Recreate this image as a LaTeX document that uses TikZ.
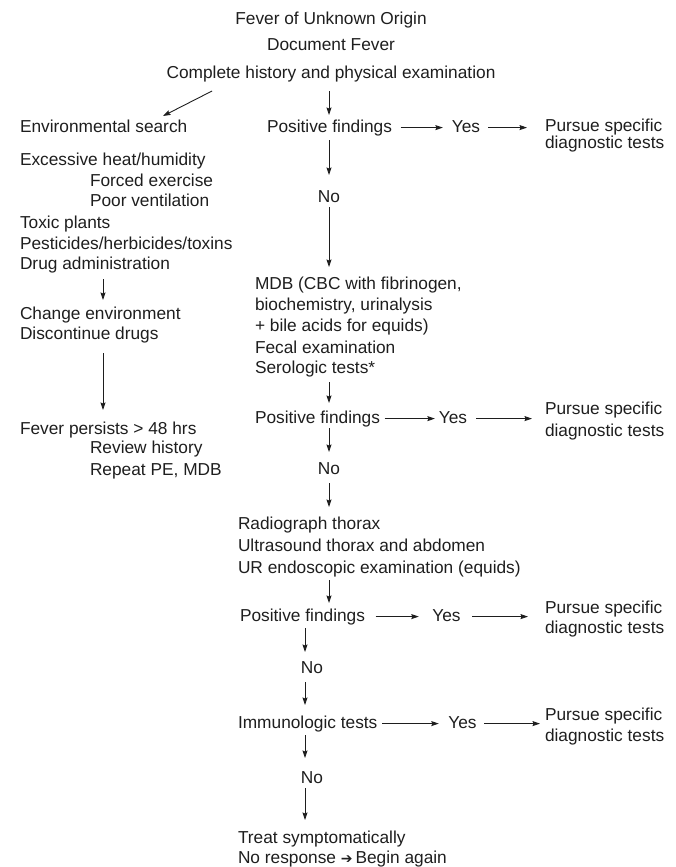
\documentclass[tikz,border=0pt]{standalone}
\usepackage{fontspec}
\setmainfont{Liberation Sans}
\newfontfamily\symfont{DejaVu Sans}
\usetikzlibrary{arrows.meta,calc}
\definecolor{ink}{HTML}{1E1E1E}
\newcommand{\fsz}{\fontsize{17.3pt}{21pt}\selectfont}
\tikzset{
  txt/.style={inner sep=0pt, outer sep=0pt, text height=12.5pt, text depth=3.7pt, font=\fsz, text=ink, anchor=base west},
  ctr/.style={txt, anchor=base},
  arr/.style={draw=ink, line width=0.9pt, -{Stealth[length=7.5pt,width=5pt,inset=1pt]}}
}
\begin{document}
\begin{tikzpicture}[x=1pt,y=-1pt]
\useasboundingbox (0,0) rectangle (676,867);
\coordinate (cA) at (329,0);
\coordinate (cB) at (305,0);
\coordinate (cL) at (103,0);
% top
\node[ctr] (fuo) at (331,25) {Fever of Unknown Origin};
\node[ctr] (doc) at (331,51) {Document Fever};
\node[ctr] (cplt) at (331,78) {Complete history and physical examination};
% left column
\node[txt] (env) at (20,132) {Environmental search};
\node[txt] (exc) at (20,165) {Excessive heat/humidity};
\node[txt] (frc) at (90,186) {Forced exercise};
\node[txt] (poor) at (90,206) {Poor ventilation};
\node[txt] (tox) at (20,228) {Toxic plants};
\node[txt] (pest) at (20,249) {Pesticides/herbicides/toxins};
\node[txt] (drug) at (20,269) {Drug administration};
\node[txt] (chg) at (20,319) {Change environment};
\node[txt] (disc) at (20,339) {Discontinue drugs};
\node[txt] (fp) at (20,434) {Fever persists > 48 hrs};
\node[txt] (rev) at (90,453) {Review history};
\node[txt] (rep) at (90,475) {Repeat PE, MDB};
% row 1
\node[txt] (pf1) at (267,132) {Positive findings};
\node[ctr] (yes1) at (466,132) {Yes};
\node[txt] (pur1a) at (545,131.5) {Pursue specific};
\node[txt] (pur1b) at (545,148.5) {diagnostic tests};
\node[ctr] (no1) at (329,202) {No};
% MDB block
\node[txt] (mdb1) at (255,289) {MDB (CBC with fibrinogen,};
\node[txt] (mdb2) at (255,310) {biochemistry, urinalysis};
\node[txt] (mdb3) at (255,331) {+ bile acids for equids)};
\node[txt] (fec) at (255,353) {Fecal examination};
\node[txt] (sero) at (255,373) {Serologic tests*};
% row 2
\node[txt] (pf2) at (255,423) {Positive findings};
\node[ctr] (yes2) at (453,423) {Yes};
\node[txt] (pur2a) at (545,414) {Pursue specific};
\node[txt] (pur2b) at (545,436) {diagnostic tests};
\node[ctr] (no2) at (329,474) {No};
% imaging block
\node[txt] (rad) at (238,529) {Radiograph thorax};
\node[txt] (us) at (238,551) {Ultrasound thorax and abdomen};
\node[txt] (ur) at (238,573) {UR endoscopic examination (equids)};
% row 3
\node[txt] (pf3) at (240,621) {Positive findings};
\node[ctr] (yes3) at (446.5,621) {Yes};
\node[txt] (pur3a) at (545,613) {Pursue specific};
\node[txt] (pur3b) at (545,633) {diagnostic tests};
\node[ctr] (no3) at (312,673) {No};
% row 4
\node[txt] (imm) at (238,728) {Immunologic tests};
\node[ctr] (yes4) at (462.5,728) {Yes};
\node[txt] (pur4a) at (545,720) {Pursue specific};
\node[txt] (pur4b) at (545,741) {diagnostic tests};
\node[ctr] (no4) at (312,783) {No};
% bottom
\node[txt] (treat) at (238,843) {Treat symptomatically};
\node[txt] (again) at (238,863) {No response {\symfont\fontsize{14pt}{14pt}\selectfont ➔}\,Begin again};
% connectors: main column
\draw[arr] ($(cplt.south west)+(45.5,9.3)$) -- ($(env.north west)+(143,-3.5)$);
\draw[arr, shorten <=9.3pt, shorten >=4.5pt] (cplt.south -| cA) -- (pf1.north -| cA);
\draw[arr, shorten <=4.3pt, shorten >=14.5pt] (pf1.south -| cA) -- (no1.north -| cA);
\draw[arr, shorten <=1.3pt, shorten >=9.5pt] (no1.south -| cA) -- (mdb1.north -| cA);
\draw[arr, shorten <=5.3pt, shorten >=7.5pt] (sero.south -| cA) -- (pf2.north -| cA);
\draw[arr, shorten <=1.3pt, shorten >=9.5pt] (pf2.south -| cA) -- (no2.north -| cA);
\draw[arr, shorten <=5.3pt, shorten >=9.5pt] (no2.south -| cA) -- (rad.north -| cA);
\draw[arr, shorten <=3.3pt, shorten >=5.5pt] (ur.south -| cA) -- (pf3.north -| cA);
\draw[arr, shorten <=3.3pt, shorten >=8.5pt] (pf3.south -| cB) -- (no3.north -| cB);
\draw[arr, shorten <=5.3pt, shorten >=10.5pt] (no3.south -| cB) -- (imm.north -| cB);
\draw[arr, shorten <=3.3pt, shorten >=12.5pt] (imm.south -| cB) -- (no4.north -| cB);
\draw[arr, shorten <=1.3pt, shorten >=10.5pt] (no4.south -| cB) -- (treat.north -| cB);
% left column
\draw[arr, shorten <=6.3pt, shorten >=6.5pt] (drug.south -| cL) -- (chg.north -| cL);
\draw[arr, shorten <=10.3pt, shorten >=11.5pt] (disc.south -| cL) -- (fp.north -| cL);
% horizontal
\draw[arr, shorten <=8.7pt, shorten >=9pt] (pf1.east) -- (yes1.west);
\draw[arr, shorten <=8pt, shorten >=18pt] (yes1.east) -- (pur1a.west |- yes1.east);
\draw[arr, shorten <=4.7pt, shorten >=4pt] (pf2.east) -- (yes2.west);
\draw[arr, shorten <=9pt, shorten >=13pt] (yes2.east) -- (pur2a.west |- yes2.east);
\draw[arr, shorten <=10.7pt, shorten >=13.6pt] (pf3.east) -- (yes3.west);
\draw[arr, shorten <=11.6pt, shorten >=17pt] (yes3.east) -- (pur3a.west |- yes3.east);
\draw[arr, shorten <=4.6pt, shorten >=9.6pt] (imm.east) -- (yes4.west);
\draw[arr, shorten <=7.6pt, shorten >=5pt] (yes4.east) -- (pur4a.west |- yes4.east);
\end{tikzpicture}
\end{document}
